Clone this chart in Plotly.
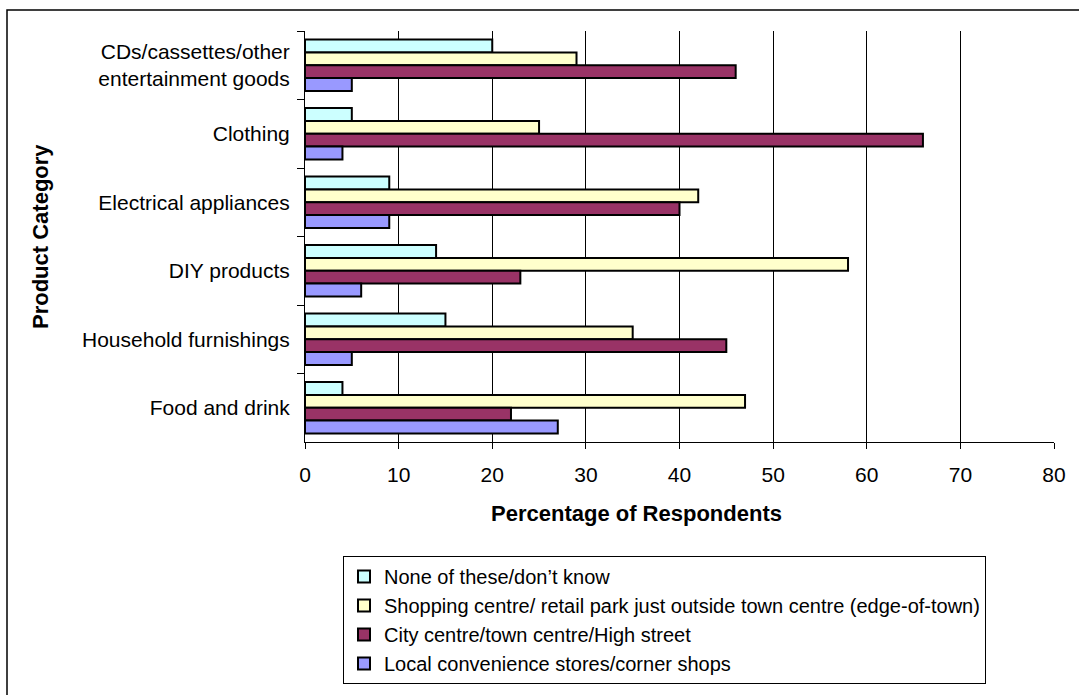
import plotly.graph_objects as go

# Product categories, listed top to bottom
categories = [
    "CDs/cassettes/other<br>entertainment goods",
    "Clothing",
    "Electrical appliances",
    "DIY products",
    "Household furnishings",
    "Food and drink",
]

# Percentage of respondents choosing each type of location
none_dont_know = [20, 5, 9, 14, 15, 4]
edge_of_town = [29, 25, 42, 58, 35, 47]
town_centre = [46, 66, 40, 23, 45, 22]
local_shops = [5, 4, 9, 6, 5, 27]

series_names = [
    "None of these/don\u2019t know",
    "Shopping centre/ retail park just outside town centre (edge-of-town)",
    "City centre/town centre/High street",
    "Local convenience stores/corner shops",
]
series_values = [none_dont_know, edge_of_town, town_centre, local_shops]
series_colors = ["#CCFFFF", "#FFFFCC", "#993366", "#9999FF"]

x_ticks = [0, 10, 20, 30, 40, 50, 60, 70, 80]

FONT = "Liberation Sans, Arial, sans-serif"

fig = go.Figure()
for name, vals, col in zip(series_names, series_values, series_colors):
    fig.add_trace(go.Bar(
        y=categories,
        x=vals,
        name=name,
        orientation="h",
        marker=dict(color=col, line=dict(color="black", width=2)),
    ))

fig.update_layout(
    width=1079,
    height=695,
    margin=dict(l=305, r=25, t=31, b=253, autoexpand=False),
    paper_bgcolor="white",
    plot_bgcolor="white",
    barmode="group",
    bargap=0.25,
    bargroupgap=0,
    font=dict(family=FONT, size=21, color="black"),
    showlegend=True,
    legend=dict(
        x=(343 - 305) / 749, y=(442 - 556) / 411, xanchor="left", yanchor="top",
        bordercolor="black", borderwidth=1,
        font=dict(family=FONT, size=20, color="black"),
        tracegroupgap=0,
        traceorder="normal",
        bgcolor="white",
    ),
    xaxis=dict(
        range=[0, 80],
        tickvals=x_ticks,
        ticks="outside", ticklen=6, tickcolor="black",
        showline=True, linecolor="black", linewidth=1,
        showgrid=True, gridcolor="black", gridwidth=1,
        zeroline=False,
        tickfont=dict(family=FONT, size=21),
        ticklabelstandoff=8,
    ),
    yaxis=dict(
        categoryorder="array",
        categoryarray=categories,
        autorange="reversed",
        ticks="outside", ticklen=7, tickcolor="black",
        tickson="boundaries",
        showline=True, linecolor="black", linewidth=1,
        showgrid=False,
        tickfont=dict(family=FONT, size=21),
        ticklabelstandoff=10,
    ),
    annotations=[
        dict(text="<b>Percentage of Respondents</b>", xref="paper", yref="paper",
             x=(636 - 305) / 749, y=(442 - 513) / 411, showarrow=False,
             font=dict(family=FONT, size=22), xanchor="center", yanchor="middle"),
        dict(text="<b>Product Category</b>", xref="paper", yref="paper",
             x=(40 - 305) / 749, y=(442 - 237) / 411, showarrow=False, textangle=-90,
             font=dict(family=FONT, size=22), xanchor="center", yanchor="middle"),
    ],
    shapes=[
        # chart-area frame
        dict(type="rect", xref="paper", yref="paper",
             x0=(7 - 305) / 749, x1=(1090 - 305) / 749,
             y0=(442 - 705) / 411, y1=(442 - 10) / 411,
             line=dict(color="black", width=1.5), fillcolor="rgba(0,0,0,0)", layer="below"),
    ],
)

fig.write_html("out.html")
